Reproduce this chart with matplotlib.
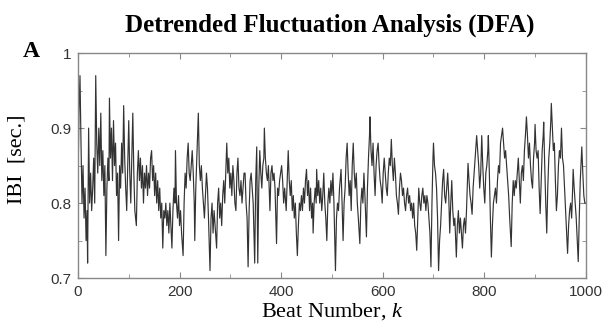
import matplotlib
matplotlib.use("Agg")
import matplotlib.pyplot as plt
from matplotlib.ticker import MultipleLocator

# beat index and inter-beat interval (sec.)
beats = [0, 2, 4, 6, 8, 10, 12, 14, 16, 18, 19, 21, 23, 25, 27, 29, 31, 33, 35, 37, 39, 41, 43, 45, 47, 49,
         51, 53, 55, 57, 59, 61, 62, 64, 66, 68, 70, 72, 74, 76, 78, 80, 82, 84, 86, 88, 90, 92, 94, 96, 98,
         100, 102, 104, 106, 108, 110, 112, 115, 117, 119, 121, 123, 125, 127, 129, 131, 133, 135, 137, 139,
         141, 143, 145, 147, 149, 151, 153, 155, 157, 159, 161, 163, 165, 167, 169, 171, 173, 175, 177, 179,
         181, 183, 185, 187, 189, 191, 192, 194, 196, 198, 200, 202, 204, 207, 209, 211, 213, 215, 217, 219,
         221, 223, 225, 227, 229, 230, 232, 234, 236, 237, 239, 241, 243, 245, 247, 249, 251, 253, 255, 257,
         260, 262, 264, 266, 268, 270, 273, 275, 277, 279, 281, 283, 285, 287, 289, 291, 293, 295, 297, 299,
         301, 303, 305, 307, 309, 311, 313, 315, 317, 319, 321, 323, 325, 327, 329, 331, 333, 335, 337, 339,
         341, 343, 345, 348, 350, 352, 354, 356, 358, 360, 362, 364, 366, 367, 369, 371, 373, 375, 378, 380,
         382, 384, 386, 388, 391, 393, 395, 397, 399, 401, 403, 405, 407, 410, 412, 414, 416, 418, 420, 422,
         424, 426, 428, 430, 432, 434, 436, 438, 440, 442, 444, 446, 448, 450, 452, 454, 456, 458, 460, 462,
         463, 465, 467, 469, 470, 472, 474, 476, 478, 480, 482, 484, 486, 488, 490, 492, 494, 496, 498, 500,
         502, 504, 507, 509, 511, 513, 515, 518, 520, 522, 524, 526, 528, 530, 532, 534, 536, 538, 540, 542,
         544, 546, 548, 550, 552, 555, 557, 559, 561, 563, 565, 568, 570, 572, 574, 575, 577, 579, 581, 583,
         585, 587, 589, 591, 593, 595, 597, 599, 601, 603, 605, 607, 609, 611, 613, 615, 617, 619, 621, 623,
         625, 627, 629, 631, 633, 635, 637, 639, 641, 643, 645, 647, 649, 651, 653, 655, 657, 659, 661, 663,
         665, 667, 669, 671, 673, 675, 677, 679, 681, 683, 685, 687, 689, 691, 693, 695, 697, 699, 700, 702,
         704, 706, 708, 710, 712, 714, 716, 718, 720, 722, 724, 726, 728, 730, 732, 734, 736, 738, 740, 742,
         745, 747, 749, 751, 753, 755, 757, 759, 761, 763, 765, 767, 768, 770, 772, 774, 776, 778, 780, 782,
         785, 787, 789, 791, 793, 795, 797, 799, 801, 803, 805, 807, 808, 810, 812, 814, 816, 818, 820, 822,
         824, 826, 828, 830, 832, 834, 836, 838, 840, 842, 844, 846, 848, 850, 853, 855, 857, 859, 861, 863,
         865, 867, 869, 871, 873, 875, 877, 879, 881, 883, 885, 887, 889, 891, 893, 895, 897, 899, 900, 902,
         904, 906, 908, 910, 912, 914, 916, 917, 919, 921, 923, 925, 927, 929, 931, 932, 934, 936, 938, 940,
         942, 944, 946, 948, 950, 952, 954, 956, 958, 960, 962, 964, 966, 968, 970, 972, 974, 975, 977, 979,
         981, 983, 985, 987, 989, 991, 992, 994, 996, 998, 1000]

ibi = [0.82, 0.92, 0.97, 0.88, 0.80, 0.85, 0.78, 0.82, 0.75, 0.79, 0.72, 0.90, 0.80, 0.84, 0.79, 0.82, 0.86,
       0.80, 0.97, 0.88, 0.84, 0.90, 0.85, 0.92, 0.83, 0.87, 0.81, 0.85, 0.73, 0.82, 0.86, 0.83, 0.94, 0.86,
       0.90, 0.83, 0.91, 0.85, 0.88, 0.81, 0.84, 0.75, 0.85, 0.82, 0.88, 0.84, 0.93, 0.86, 0.82, 0.79, 0.85,
       0.91, 0.84, 0.80, 0.86, 0.92, 0.84, 0.79, 0.77, 0.84, 0.87, 0.83, 0.86, 0.82, 0.85, 0.80, 0.84, 0.82,
       0.85, 0.81, 0.84, 0.82, 0.86, 0.87, 0.83, 0.85, 0.81, 0.84, 0.80, 0.83, 0.79, 0.82, 0.78, 0.80, 0.74,
       0.79, 0.78, 0.80, 0.77, 0.79, 0.76, 0.80, 0.77, 0.74, 0.79, 0.82, 0.80, 0.87, 0.80, 0.78, 0.81, 0.77,
       0.79, 0.76, 0.73, 0.80, 0.84, 0.82, 0.86, 0.88, 0.84, 0.83, 0.85, 0.87, 0.84, 0.80, 0.75, 0.82, 0.86,
       0.90, 0.92, 0.85, 0.83, 0.85, 0.82, 0.80, 0.78, 0.81, 0.84, 0.82, 0.78, 0.71, 0.78, 0.80, 0.76, 0.79,
       0.77, 0.74, 0.80, 0.82, 0.78, 0.80, 0.77, 0.81, 0.83, 0.80, 0.84, 0.88, 0.84, 0.86, 0.82, 0.84, 0.81,
       0.85, 0.83, 0.80, 0.79, 0.84, 0.86, 0.82, 0.81, 0.83, 0.80, 0.82, 0.84, 0.84, 0.80, 0.78, 0.715, 0.79,
       0.83, 0.84, 0.82, 0.80, 0.72, 0.83, 0.875, 0.72, 0.82, 0.87, 0.84, 0.82, 0.85, 0.86, 0.90, 0.86, 0.84,
       0.83, 0.85, 0.79, 0.84, 0.85, 0.83, 0.84, 0.82, 0.746, 0.82, 0.81, 0.83, 0.84, 0.85, 0.83, 0.80, 0.82,
       0.79, 0.83, 0.87, 0.83, 0.81, 0.83, 0.79, 0.81, 0.78, 0.80, 0.76, 0.73, 0.77, 0.80, 0.79, 0.81, 0.79,
       0.82, 0.80, 0.83, 0.845, 0.81, 0.83, 0.79, 0.82, 0.78, 0.80, 0.76, 0.80, 0.82, 0.80, 0.845, 0.81, 0.83,
       0.80, 0.82, 0.79, 0.81, 0.84, 0.80, 0.78, 0.75, 0.80, 0.82, 0.80, 0.83, 0.81, 0.84, 0.80, 0.71, 0.78,
       0.80, 0.79, 0.82, 0.845, 0.80, 0.75, 0.80, 0.82, 0.86, 0.88, 0.84, 0.81, 0.83, 0.79, 0.85, 0.88, 0.84,
       0.82, 0.84, 0.80, 0.78, 0.746, 0.80, 0.82, 0.80, 0.84, 0.81, 0.755, 0.82, 0.86, 0.89, 0.915, 0.87,
       0.85, 0.88, 0.84, 0.81, 0.85, 0.87, 0.88, 0.85, 0.83, 0.82, 0.80, 0.84, 0.86, 0.84, 0.82, 0.81, 0.84,
       0.86, 0.85, 0.885, 0.85, 0.83, 0.86, 0.84, 0.81, 0.80, 0.785, 0.82, 0.84, 0.83, 0.81, 0.82, 0.80, 0.79,
       0.81, 0.82, 0.80, 0.81, 0.79, 0.80, 0.78, 0.80, 0.77, 0.76, 0.737, 0.78, 0.82, 0.80, 0.79, 0.81, 0.82,
       0.80, 0.81, 0.79, 0.81, 0.80, 0.78, 0.76, 0.715, 0.80, 0.86, 0.88, 0.85, 0.84, 0.82, 0.78, 0.71, 0.75,
       0.77, 0.80, 0.83, 0.845, 0.81, 0.80, 0.82, 0.84, 0.81, 0.76, 0.80, 0.83, 0.79, 0.77, 0.78, 0.728, 0.77,
       0.79, 0.76, 0.78, 0.76, 0.74, 0.77, 0.78, 0.76, 0.79, 0.83, 0.853, 0.83, 0.81, 0.80, 0.785, 0.82, 0.84,
       0.86, 0.89, 0.87, 0.85, 0.82, 0.84, 0.89, 0.85, 0.82, 0.80, 0.84, 0.85, 0.87, 0.89, 0.84, 0.78, 0.728,
       0.77, 0.80, 0.81, 0.82, 0.80, 0.83, 0.85, 0.84, 0.88, 0.89, 0.90, 0.88, 0.86, 0.87, 0.85, 0.83, 0.81,
       0.78, 0.742, 0.80, 0.83, 0.81, 0.83, 0.82, 0.84, 0.86, 0.83, 0.80, 0.84, 0.85, 0.83, 0.87, 0.89, 0.915,
       0.89, 0.86, 0.88, 0.85, 0.83, 0.82, 0.86, 0.88, 0.905, 0.87, 0.86, 0.87, 0.82, 0.786, 0.83, 0.87, 0.89,
       0.908, 0.85, 0.80, 0.76, 0.82, 0.86, 0.88, 0.91, 0.933, 0.90, 0.87, 0.88, 0.83, 0.79, 0.81, 0.85, 0.87,
       0.86, 0.90, 0.86, 0.85, 0.82, 0.79, 0.76, 0.733, 0.77, 0.79, 0.80, 0.78, 0.82, 0.845, 0.82, 0.80, 0.78,
       0.75, 0.722, 0.78, 0.83, 0.86, 0.875, 0.84, 0.81, 0.80, 0.80]

xticks = [0, 200, 400, 600, 800, 1000]
yticks = [0.7, 0.8, 0.9, 1.0]
ytick_labels = ["0.7", "0.8", "0.9", "1"]

serif = "Liberation Serif"
sans = "Liberation Sans"

# serif italic for the k in the x label
plt.rcParams["mathtext.fontset"] = "custom"
plt.rcParams["mathtext.it"] = "Liberation Serif:italic"
plt.rcParams["mathtext.rm"] = "Liberation Serif"

fig = plt.figure(figsize=(6.09, 3.26), dpi=100)
ax = fig.add_axes([0.128, 0.147, 0.834, 0.690])

ax.plot(beats, ibi, color="#333333", linewidth=0.85)

ax.set_xlim(0, 1000)
ax.set_ylim(0.7, 1.0)
ax.set_xticks(xticks)
ax.set_xticklabels([str(t) for t in xticks], fontfamily=sans, fontsize=11, color="#333333")
ax.set_yticks(yticks)
ax.set_yticklabels(ytick_labels, fontfamily=sans, fontsize=11, color="#333333")
ax.xaxis.set_minor_locator(MultipleLocator(100))
ax.yaxis.set_minor_locator(MultipleLocator(0.05))
ax.tick_params(which="both", direction="in", top=True, right=True, color="#888888")
ax.tick_params(which="major", length=4, pad=5)
ax.tick_params(which="minor", length=3)
for s in ax.spines.values():
    s.set_color("#888888")
    s.set_linewidth(1.0)

# axis labels placed as figure text to match the reference positions
fig.text(0.545, 0.028, "Beat Number, $k$", fontfamily=serif, fontsize=16,
         ha="center", va="baseline")
fig.text(0.028, 0.51, "IBI  [sec.]", fontfamily=serif, fontsize=16, rotation=90,
         ha="center", va="center")

fig.text(0.542, 0.902, "Detrended Fluctuation Analysis (DFA)", fontfamily=serif,
         fontweight="bold", fontsize=18, ha="center", va="baseline")
fig.text(0.051, 0.825, "A", fontfamily=serif, fontweight="bold", fontsize=17,
         ha="center", va="baseline")

fig.savefig("out.png", dpi=100)
